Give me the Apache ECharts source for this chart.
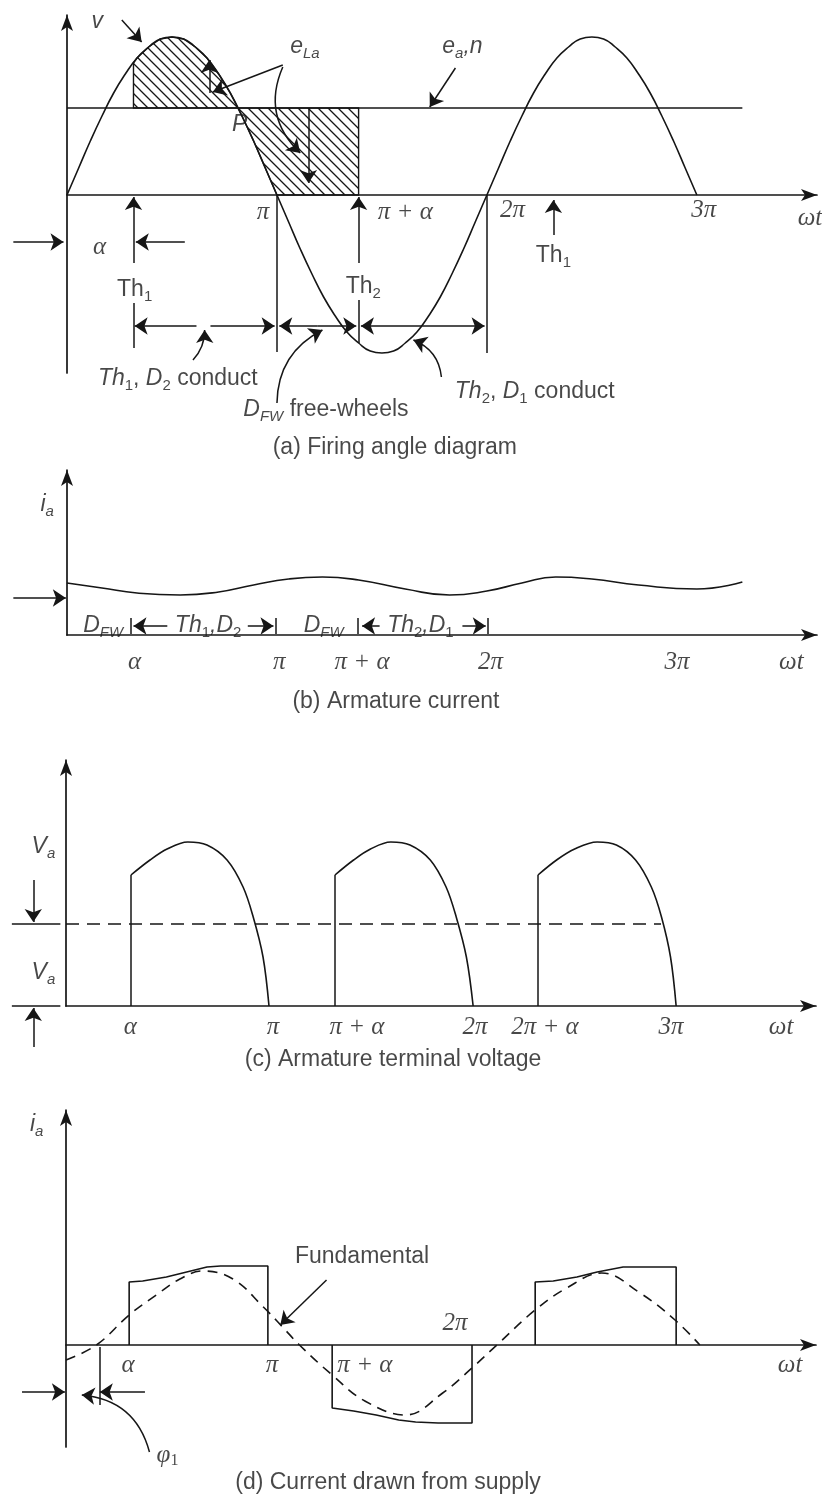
<!DOCTYPE html>
<html><head><meta charset="utf-8">
<script src="https://cdn.jsdelivr.net/npm/echarts@6/dist/echarts.min.js"></script>
<style>html,body{margin:0;padding:0;background:#fff}#c{width:822px;height:1495px}</style>
</head><body><div id="c"></div>
<script>
// ===== Panel (a): firing angle diagram (x in electrical degrees, y in drawing units) =====
const aSupplyV = [[0,0],[10,27],[20,54],[30,79],[40,102],[50,121],[60,137],[70,148],[80,156],[90,158],[100,156],[110,148],[120,137],[130,121],[140,102],[150,79],[160,54],[170,27],[180,0],[190,-27],[200,-54],[210,-79],[220,-102],[230,-121],[240,-137],[250,-148],[260,-156],[270,-158],[280,-156],[290,-148],[300,-137],[310,-121],[320,-102],[330,-79],[340,-54],[350,-27],[360,0],[370,27],[380,54],[390,79],[400,102],[410,121],[420,137],[430,148],[440,156],[450,158],[460,156],[470,148],[480,137],[490,121],[500,102],[510,79],[520,54],[530,27],[540,0]];
const aBackEmf = [[0,87],[579,87]];
const aHatchPos = [[57,132],[60,137],[70,148],[80,156],[90,158],[100,156],[110,148],[120,137],[130,121],[140,102],[146.6,87],[57,87]];
const aHatchNeg = [[146.6,87],[150,79],[160,54],[170,27],[180,0],[250,0],[250,87]];
const aArrows = [[47,175,64,153],[333,127,311,88],[122,102,122,135],[185,130,125,103],[207,87,207,12],
  [57,-68,57,-2],[250,-68,250,-2],[417,-40,417,-5],[-46,-47,-3,-47],[101,-47,59,-47],
  [111,-131,58,-131],[123,-131,178,-131],[215,-131,182,-131],[215,-131,248,-131],[305,-131,252,-131],[305,-131,358,-131]];
const aLeaders = [[185,128,200,42,-0.35],[108,-165,118,-135,-0.2],[180,-208,219,-135,0.3],[321,-182,297,-145,-0.3]];
const aLines = [[57,-108,57,-153],[180,0,180,-157],[250,-105,250,-148],[360,0,360,-158]];
const aLabels = [[26,173,'{i|v}'],[204,148,'{i|e}{si|La}'],[339,148,'{i|e}{si|a}{i|,n}'],[148,70,'{i|P}'],
  [168,-17,'{m|π}'],[290,-17,'{m|π + α}'],[382,-15,'{m|2π}'],[546,-15,'{m|3π}'],[637,-23,'{m|ωt}'],
  [28,-52,'{m|α}'],[58,-95,'{n|Th}{s|1}'],[254,-92,'{n|Th}{s|2}'],[417,-61,'{n|Th}{s|1}'],
  [95,-184,'{i|Th}{s|1}{n|, }{i|D}{s|2}{n| conduct}'],[222,-215,'{i|D}{si|FW}{n| free-wheels}'],
  [401,-197,'{i|Th}{s|2}{n|, }{i|D}{s|1}{n| conduct}'],[281,-253,'{n|(a) Firing angle diagram}']];

// ===== Panel (b): armature current =====
const bCurrent = [[0,52],[30,47],[60,42],[97,40],[130,43],[160,50],[190,56],[219,58],[250,55],[290,46],[328,40],[360,44],[390,52],[419,58],[450,56],[490,50],[540,46],[579,53]];
const bArrows = [[-46,37,-1,37],[86,9,57,9],[155,9,177,9],[268,9,253,9],[339,9,359,9]];
const bLines = [[55,1,55,17],[179,1,179,17],[249,1,249,17],[361,1,361,17]];
const bLabels = [[-17,130,'{i|i}{si|a}'],[31,9,'{i|D}{si|FW}'],[121,9,'{i|Th}{s|1}{i|,D}{s|2}'],[220,9,'{i|D}{si|FW}'],[303,9,'{i|Th}{s|2}{i|,D}{s|1}'],
  [58,-27,'{m|α}'],[182,-27,'{m|π}'],[253,-27,'{m|π + α}'],[363,-27,'{m|2π}'],[523,-27,'{m|3π}'],[621,-27,'{m|ωt}'],
  [282,-67,'{n|(b) Armature current}']];

// ===== Panel (c): armature terminal voltage =====
const cCurve1 = [[57.6,131],[74.5,146],[89.6,157],[108,164],[125,161],[142.8,146],[157,119],[166,89],[174.7,49],[180,0]];
const cCurve2 = [[238.5,131],[255,146],[270,157],[288,164],[305,161],[323,146],[337,119],[346,89],[355,49],[361,0]];
const cCurve3 = [[418.5,131],[435,146],[451,157],[471,164],[488,161],[505,146],[519,119],[528,89],[536,49],[541,0]];
const cMean = [[0,82],[527.6,82]];
const cLines = [[57.6,0,57.6,131],[238.5,0,238.5,131],[418.5,0,418.5,131],[-48,82,-5,82],[-48,0,-5,0]];
const cArrows = [[-29,126,-29,84],[-29,-41,-29,-2]];
const cLabels = [[-20,159,'{i|V}{si|a}'],[-20,33,'{i|V}{si|a}'],
  [57,-21,'{m|α}'],[183.5,-21,'{m|π}'],[258,-21,'{m|π + α}'],[362.7,-21,'{m|2π}'],[424.7,-21,'{m|2π + α}'],[536.5,-21,'{m|3π}'],[634,-21,'{m|ωt}'],
  [290,-54,'{n|(c) Armature terminal voltage}']];

// ===== Panel (d): supply current and its fundamental =====
const dPulse1 = [[56,0],[56,63],[68,64],[89,68],[107,73],[125,78],[137,79],[179,79],[179,0]];
const dPulse2 = [[236,0],[236,-63],[255,-66],[275,-70],[295,-75],[310,-77],[330,-78],[360,-78],[360,0]];
const dPulse3 = [[416,0],[416,63],[432,64],[453,68],[471,73],[494,78],[541,78],[541,0]];
const dFund = [[0,-15],[27,0],[56,30],[80,50],[101,66],[121,74],[148,66],[175,38],[192,18],[207,0],[236,-30],[265,-56],[301,-70],[334,-48],[360,-23],[382,0],[416,35],[444,57],[475,72],[509,52],[540,25],[562,0]];
const dArrows = [[231,65,190,20],[-39,-47,-1,-47],[70,-47,30,-47]];
const dLeaders = [[74,-107,14,-50,-0.35]];
const dLines = [[30,-2,30,-60]];
const dLabels = [[-26,220,'{i|i}{si|a}'],[55,-20,'{m|α}'],[182.7,-20,'{m|π}'],[265,-20,'{m|π + α}'],[345,22,'{m|2π}'],[642,-20,'{m|ωt}'],
  [262.5,88,'{n|Fundamental}'],[90,-110,'{m|φ}{ms|1}'],[285.5,-138,'{n|(d) Current drawn from supply}']];

// ===== rendering =====
const INK = '#161616', TXT = '#1a1a1a';
const SANS = 'Liberation Sans', SERIF = 'Liberation Serif';
const RICH = {
  n:{fontFamily:SANS,fontSize:23,color:TXT,lineHeight:28},
  i:{fontFamily:SANS,fontSize:23,fontStyle:'italic',color:TXT,lineHeight:28},
  s:{fontFamily:SANS,fontSize:15,color:TXT,lineHeight:10,verticalAlign:'bottom'},
  si:{fontFamily:SANS,fontSize:15,fontStyle:'italic',color:TXT,lineHeight:10,verticalAlign:'bottom'},
  m:{fontFamily:SERIF,fontSize:25,fontStyle:'italic',color:TXT,lineHeight:28},
  ms:{fontFamily:SERIF,fontSize:16,color:TXT,lineHeight:10,verticalAlign:'bottom'}
};
function hatchCanvas(){
  const c=document.createElement('canvas'); c.width=10; c.height=10;
  const g=c.getContext('2d'); g.strokeStyle=INK; g.lineWidth=1.3; g.beginPath();
  g.moveTo(0,0); g.lineTo(10,10); g.moveTo(-3,7); g.lineTo(3,13); g.moveTo(7,-3); g.lineTo(13,3); g.stroke();
  return c;
}
const pattern = {image:hatchCanvas(), repeat:'repeat'};

const grids = [
  {left:67, top:15, width:750, height:358},
  {left:67, top:470, width:750, height:165},
  {left:66, top:760, width:750, height:246},
  {left:66, top:1110, width:750, height:337}];
const xRanges = [[0,643],[0,643],[0,665],[0,665]];
const yRanges = [[-178,180],[0,165],[0,246],[-102,235]];
const axLine = {show:true, onZero:true, symbol:['none','arrow'], symbolSize:[9,16], lineStyle:{color:INK,width:1.7}};
function axis(i, r){ return {type:'value', gridIndex:i, min:r[0], max:r[1], axisLine:axLine, axisTick:{show:false}, axisLabel:{show:false}, splitLine:{show:false}}; }

function curve(i, data, smooth, dash){
  return {type:'line', xAxisIndex:i, yAxisIndex:i, data, symbol:'none', showSymbol:false, smooth,
    lineStyle:{color:INK, width:1.6, type:dash||'solid'}, silent:true, clip:false, z:3};
}
function segs(i, list, arrow){
  return {type:'lines', coordinateSystem:'cartesian2d', xAxisIndex:i, yAxisIndex:i,
    symbol: arrow?['none','arrow']:'none', symbolSize:[7,13], silent:true, clip:false, z:4,
    lineStyle:{color:INK, width:1.5, opacity:1},
    data:list.map(s=>{ const d={coords:[[s[0],s[1]],[s[2],s[3]]]}; if(s.length>4) d.lineStyle={curveness:s[4], opacity:1}; return d; })};
}
function texts(i, list){
  return {type:'scatter', xAxisIndex:i, yAxisIndex:i, symbolSize:1, itemStyle:{color:'rgba(0,0,0,0)'},
    data:list.map(t=>({value:[t[0],t[1]], name:t[2]})), silent:true, clip:false, z:5,
    label:{show:true, position:'inside', formatter:p=>p.name, rich:RICH, color:TXT}};
}

const series = [
  {type:'custom', xAxisIndex:0, yAxisIndex:0, data:[[0,0]], silent:true, clip:false, z:2,
   renderItem:(params, api)=>({type:'group', children:[aHatchPos, aHatchNeg].map(r=>({type:'polygon',
     shape:{points:r.map(p=>api.coord(p))}, style:{fill:pattern, stroke:INK, lineWidth:1.4}}))})},
  curve(0, aSupplyV, true), curve(0, aBackEmf, false),
  segs(0, aArrows, true), segs(0, aLeaders, true), segs(0, aLines, false), texts(0, aLabels),
  curve(1, bCurrent, true), segs(1, bArrows, true), segs(1, bLines, false), texts(1, bLabels),
  curve(2, cCurve1, 0.35), curve(2, cCurve2, 0.35), curve(2, cCurve3, 0.35), curve(2, cMean, false, [13,8]),
  segs(2, cLines, false), segs(2, cArrows, true), texts(2, cLabels),
  curve(3, dPulse1, false), curve(3, dPulse2, false), curve(3, dPulse3, false), curve(3, dFund, 0.4, [10,7]),
  segs(3, dArrows, true), segs(3, dLeaders, true), segs(3, dLines, false), texts(3, dLabels)
];

const chart = echarts.init(document.getElementById('c'), null, {renderer:'canvas'});
chart.setOption({
  animation:false, backgroundColor:'#ffffff',
  grid:grids, xAxis:grids.map((g,i)=>axis(i,xRanges[i])), yAxis:grids.map((g,i)=>axis(i,yRanges[i])),
  series
});
</script></body></html>
